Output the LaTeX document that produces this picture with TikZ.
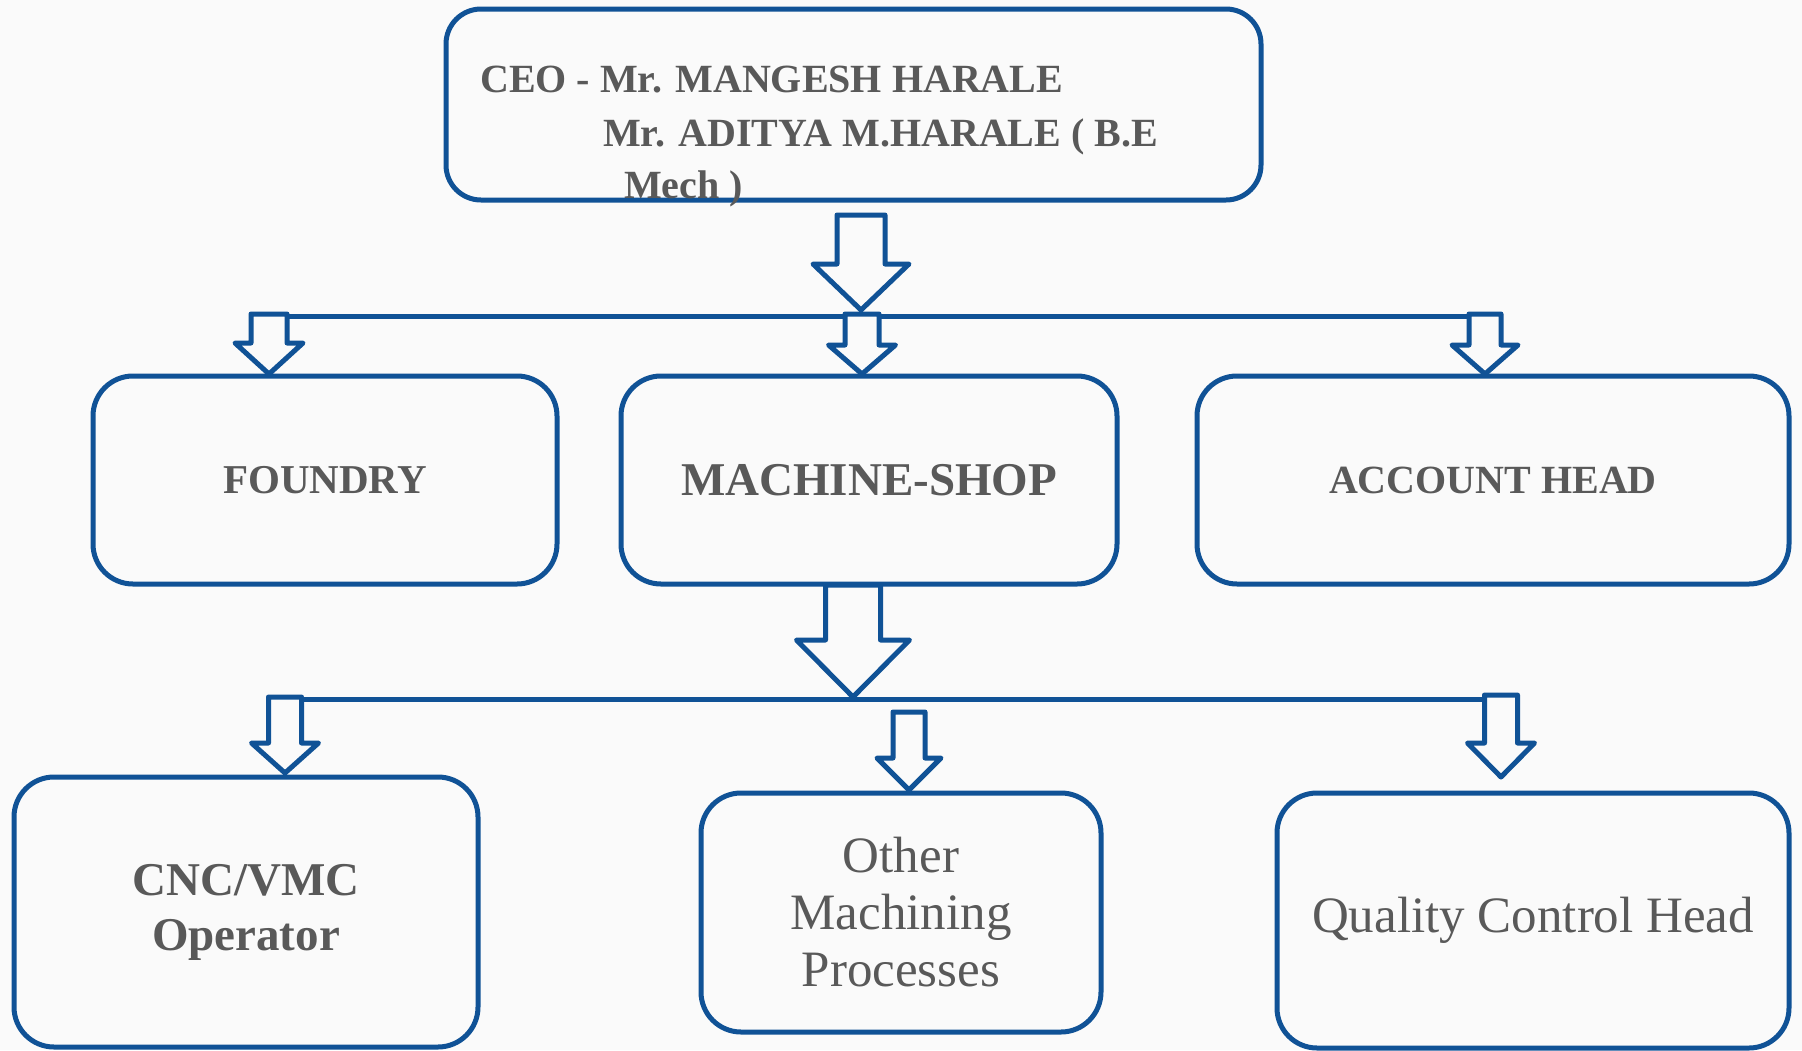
\documentclass[tikz,border=0pt]{standalone}
\usepackage{fontspec}
\setmainfont{Liberation Serif}
\usetikzlibrary{calc}
\definecolor{lineblue}{RGB}{16,82,150}
\definecolor{txtgray}{RGB}{89,89,89}
\definecolor{bgc}{RGB}{250,250,250}
\newcommand\blockarr[5]{%
 \draw[barrowstyle] let \p1=(#1), \p2=(#2) in
 (\x1-#3pt,\y1) -- (\x1+#3pt,\y1) -- (\x1+#3pt,\y2+#5pt) -- (\x1+#4pt,\y2+#5pt)
 -- (\x1,\y2) -- (\x1-#4pt,\y2+#5pt) -- (\x1-#3pt,\y2+#5pt) -- cycle;}
\begin{document}
\begin{tikzpicture}[x=1pt,y=-1pt,
 box/.style={draw=lineblue, line width=5pt, rounded corners=40pt, fill=bgc, inner sep=0pt, text=txtgray, align=center},
 ceotext/.style={inner sep=0pt, text=txtgray, font=\bfseries\fontsize{40}{48}\selectfont},
 barrowstyle/.style={draw=lineblue, line width=5pt, fill=bgc, line join=round},
 barline/.style={draw=lineblue, line width=5pt}]
\fill[bgc] (0,0) rectangle (1802,1050);
\useasboundingbox (0,0) rectangle (1802,1050);

% boxes
\node[box, minimum width=815pt, minimum height=191pt, rounded corners=35pt] (ceo) at (853.5,104.5) {};
\node[ceotext, anchor=base west] (ceoA) at (480,92) {CEO - Mr. MANGESH HARALE};
\node[ceotext, anchor=base west] (ceoB) at (603,146) {Mr. ADITYA M.HARALE ( B.E};
\node[ceotext, anchor=base west] (ceoC) at (624,198) {Mech )};

\node[box, minimum width=464pt, minimum height=208pt, font=\bfseries\fontsize{41}{49}\selectfont] (foundry) at (325,480) {FOUNDRY};
\node[box, minimum width=496pt, minimum height=208pt, font=\bfseries\fontsize{47}{56}\selectfont] (machine) at (869,480) {MACHINE-SHOP};
\node[box, minimum width=592pt, minimum height=208pt, font=\bfseries\fontsize{40}{48}\selectfont] (account) at (1493,480) {ACCOUNT HEAD};

\node[box, minimum width=464pt, minimum height=270pt, font=\bfseries\fontsize{47}{55}\selectfont] (cnc) at (246,912) {CNC/VMC\\Operator};
\node[box, minimum width=400pt, minimum height=239pt, font=\fontsize{51}{57}\selectfont] (other) at (901,912.5) {Other\\Machining\\Processes};
\node[box, minimum width=512pt, minimum height=255pt, font=\fontsize{51}{60}\selectfont] (qc) at (1533,920.5) {Quality Control Head};

% bars
\coordinate (bar1L) at (251,316);
\coordinate (bar1R) at (1500,316);
\coordinate (bar2L) at (268,699);
\coordinate (bar2R) at (1505,699);
\draw[barline] (bar1L) -- (bar1R);
\draw[barline] (bar2L) -- (bar2R);

% arrow ends
\coordinate (A1t) at (861,215);  \coordinate (A1p) at (861,310);
\coordinate (a2t) at (269,314);  \coordinate (a2p) at (269,374);
\coordinate (a3t) at (862,314);  \coordinate (a3p) at (862,374);
\coordinate (a4t) at (1485,314); \coordinate (a4p) at (1485,374);
\coordinate (B1t) at (853,585);  \coordinate (B1p) at (853,697);
\coordinate (b2t) at (285,697);  \coordinate (b2p) at (285,773);
\coordinate (b3t) at (909,712);  \coordinate (b3p) at (909,790);
\coordinate (b4t) at (1501,695); \coordinate (b4p) at (1501,777);

\blockarr{A1t}{A1p}{24}{48}{46}
\blockarr{a2t}{a2p}{18}{34}{31}
\blockarr{a3t}{a3p}{17}{33.5}{29}
\blockarr{a4t}{a4p}{16}{33}{29}
\blockarr{B1t}{B1p}{27.5}{56.5}{57}
\blockarr{b2t}{b2p}{16.5}{33.5}{30}
\blockarr{b3t}{b3p}{16}{32}{32}
\blockarr{b4t}{b4p}{16.5}{33.5}{34}
\end{tikzpicture}
\end{document}
